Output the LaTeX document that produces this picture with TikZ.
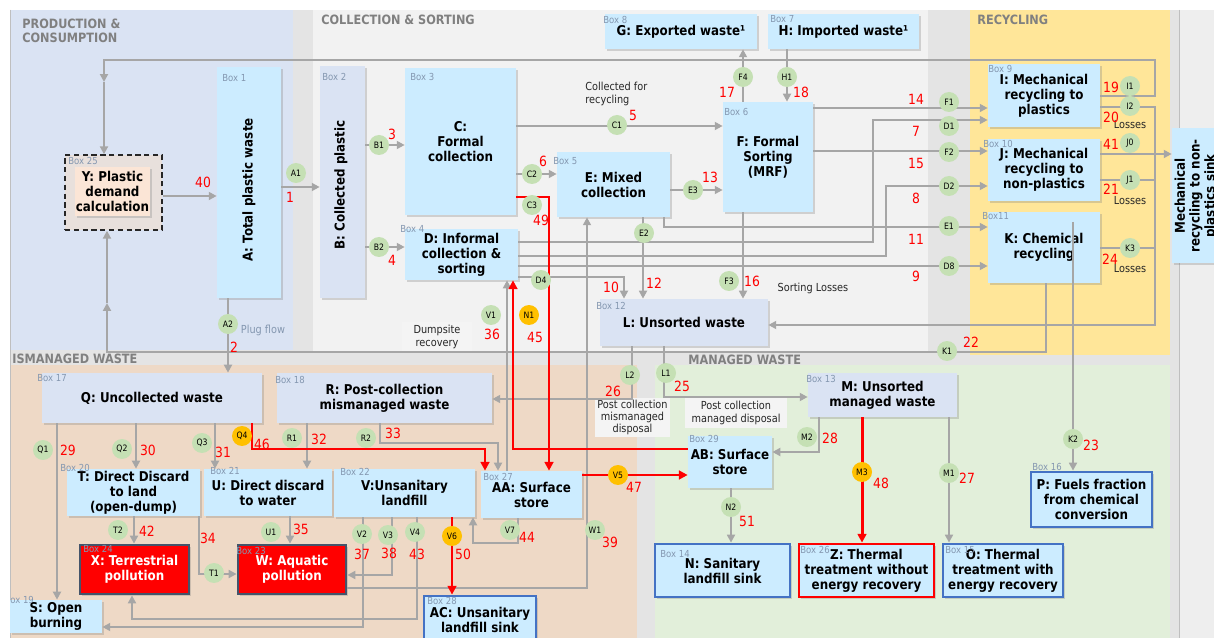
\documentclass[tikz,border=0pt]{standalone}
\usepackage{fontspec}
\setmainfont{DejaVu Sans}[FakeStretch=0.88]
\usetikzlibrary{arrows.meta,shadows}

\definecolor{pcblue}{HTML}{DAE3F3}
\definecolor{csgrey}{HTML}{F2F2F2}
\definecolor{gapgrey}{HTML}{E4E4E4}
\definecolor{rightgrey}{HTML}{EEEEEE}
\definecolor{recyel}{HTML}{FFE699}
\definecolor{mispeach}{HTML}{EED9C6}
\definecolor{mangreen}{HTML}{E2EFDA}
\definecolor{boxblue}{HTML}{CCECFF}
\definecolor{boxlav}{HTML}{DAE3F3}
\definecolor{ypeach}{HTML}{FBE5D6}
\definecolor{ybg}{HTML}{E8E0DC}
\definecolor{flowgrey}{HTML}{A6A6A6}
\definecolor{numred}{HTML}{FF0000}
\definecolor{nodegreen}{HTML}{C5E0B4}
\definecolor{nodeorange}{HTML}{FFC000}
\definecolor{labgrey}{HTML}{8497B0}
\definecolor{zonegrey}{HTML}{808080}
\definecolor{sinkblue}{HTML}{4472C4}
\definecolor{polborder}{HTML}{44546A}
\definecolor{notebg}{HTML}{F4F4F4}

\newcommand{\boxfont}{\bfseries\fontsize{7.7}{8.5}\selectfont}
\newcommand{\numfont}{\fontsize{8}{8}\selectfont}
\newcommand{\tagfont}{\fontsize{5.5}{5.5}\selectfont}
\newcommand{\cfont}{\fontsize{5}{5}\selectfont}
\newcommand{\notefont}{\fontsize{6.3}{7}\selectfont}
\newcommand{\zonefont}{\bfseries\fontsize{7.3}{8}\selectfont}

\begin{document}
\begin{tikzpicture}[x=0.02cm,y=-0.02cm,
  pbox/.style={fill=boxblue, inner sep=0pt, align=center, font=\boxfont,
    drop shadow={shadow xshift=1.2pt,shadow yshift=-1.2pt,opacity=0.3,fill=black!50}},
  lbox/.style={pbox, fill=boxlav},
  sinkbox/.style={pbox, draw=sinkblue, line width=1.6pt},
  zbox/.style={pbox, draw=numred, line width=1.6pt},
  polbox/.style={pbox, fill=numred, draw=polborder, line width=1.6pt, text=white},
  ybox/.style={draw=black!85, dash pattern=on 3pt off 2pt, line width=0.8pt, fill=ybg, inner sep=0pt},
  notebox/.style={fill=notebg, inner sep=0pt, align=center, font=\notefont, text=black!85},
  flow/.style={draw=flowgrey, line width=1.1pt, -{Triangle[length=4.5pt,width=4.5pt]}},
  link/.style={draw=flowgrey, line width=1.1pt},
  rflow/.style={draw=numred, line width=1.7pt, -{Triangle[length=5pt,width=5pt]}},
  gc/.style={circle, fill=nodegreen, minimum size=0.4cm, inner sep=0pt, font=\cfont},
  oc/.style={gc, fill=nodeorange},
  num/.style={text=numred, font=\numfont, inner sep=0pt},
  tag/.style={text=labgrey, font=\tagfont, anchor=west, inner sep=0pt},
  note/.style={font=\notefont, text=black!85, align=center, inner sep=0pt},
  zone/.style={text=zonegrey, font=\zonefont, anchor=west, align=left, inner sep=0pt}]

\useasboundingbox (0,0) rectangle (1214,638);
\clip (0,0) rectangle (1214,638);

% regions
\fill[white] (0,0) rectangle (1214,638);
\fill[gapgrey] (10,10) rectangle (1214,638);
\fill[pcblue] (10,10) rectangle (293,350);
\fill[csgrey] (313,10) rectangle (928,352);
\fill[recyel] (970,10) rectangle (1170,355);
\fill[mispeach] (10,365) rectangle (637,638);
\fill[mangreen] (655,365) rectangle (1170,638);
\fill[rightgrey] (1179,10) rectangle (1214,638);
\draw[black!25] (1179,10) -- (1179,638);
\draw[black!25] (10,10) -- (10,638);

\node[zone] (zpc) at (22,31) {PRODUCTION \&\\CONSUMPTION};
\node[zone] (zcs) at (321,20) {COLLECTION \& SORTING};
\node[zone] (zrc) at (977,20) {RECYCLING};
\node[zone] (zmm) at (12,359) {ISMANAGED WASTE};
\node[zone] (zmw) at (688,360) {MANAGED WASTE};

% boxes
\node[ybox, minimum width=1.94cm, minimum height=1.5cm] (Yout) at (113.5,192.5) {};
\node[pbox, fill=ypeach, minimum width=1.5cm, minimum height=0.98cm] (Y) at (112.5,191.5) {Y: Plastic\\demand\\calculation};
\node[pbox, minimum width=1.28cm, minimum height=4.62cm] (A) at (249,182.5) {};
\node[rotate=90, font=\boxfont] (At) at (249,190) {A: Total plastic waste};
\node[lbox, minimum width=0.9cm, minimum height=4.64cm] (B) at (342.5,182) {};
\node[rotate=90, font=\boxfont] (Bt) at (341,185) {B: Collected plastic};
\node[pbox, minimum width=2.22cm, minimum height=2.94cm] (C) at (460.5,141.5) {C:\\Formal\\collection};
\node[pbox, minimum width=2.26cm, minimum height=1.02cm] (D) at (461.5,254.5) {D: Informal\\collection \&\\sorting};
\node[pbox, minimum width=2.26cm, minimum height=1.3cm] (E) at (613.5,184.5) {E: Mixed\\collection};
\node[pbox, minimum width=1.8cm, minimum height=2.2cm] (F) at (768,157) {F: Formal\\Sorting\\(MRF)};
\node[pbox, minimum width=3.04cm, minimum height=0.7cm] (G) at (681,31.5) {G: Exported waste¹};
\node[pbox, minimum width=3.02cm, minimum height=0.7cm] (H) at (843.5,31.5) {H: Imported waste¹};
\node[pbox, minimum width=2.24cm, minimum height=1.26cm] (I) at (1044,95.5) {I: Mechanical\\recycling to\\plastics};
\node[pbox, minimum width=2.24cm, minimum height=1.24cm] (J) at (1044,170) {J: Mechanical\\recycling to\\non-plastics};
\node[pbox, minimum width=2.24cm, minimum height=1.42cm] (K) at (1044,247.5) {K: Chemical\\recycling};
\node[pbox, minimum width=1cm, minimum height=2.7cm] (sink) at (1197,195.5) {};
\node[rotate=90, font=\boxfont, align=center] (sinkt) at (1196,196) {Mechanical\\recycling to non-\\plastics sink};
\node[lbox, minimum width=3.36cm, minimum height=0.94cm] (L) at (684,322.5) {L: Unsorted waste};
\node[lbox, minimum width=2.98cm, minimum height=0.88cm] (M) at (882.5,395) {M: Unsorted\\managed waste};
\node[lbox, minimum width=4.4cm, minimum height=1cm] (Q) at (152,398) {Q: Uncollected waste};
\node[lbox, minimum width=4.3cm, minimum height=1cm] (R) at (384.5,398) {R: Post-collection\\mismanaged waste};
\node[pbox, minimum width=2.66cm, minimum height=0.94cm] (T) at (133.5,492.5) {T: Direct Discard\\to land\\(open-dump)};
\node[pbox, minimum width=2.56cm, minimum height=0.94cm] (U) at (268,492.5) {U: Direct discard\\to water};
\node[pbox, minimum width=2.82cm, minimum height=0.96cm] (V) at (404.5,493) {V:Unsanitary\\landfill};
\node[pbox, minimum width=2.02cm, minimum height=0.94cm] (AA) at (531.5,494.5) {AA: Surface\\store};
\node[pbox, minimum width=1.68cm, minimum height=1.04cm] (AB) at (730,462) {AB: Surface\\store};
\node[polbox, minimum width=2.18cm, minimum height=0.98cm] (X) at (134.5,569.5) {X: Terrestrial\\pollution};
\node[polbox, minimum width=2.16cm, minimum height=0.98cm] (W) at (292,569.5) {W: Aquatic\\pollution};
\node[pbox, minimum width=1.84cm, minimum height=0.66cm] (S) at (56,616.5) {S: Open\\burning};
\node[sinkbox, minimum width=2.24cm, minimum height=0.96cm] (AC) at (480,620) {AC: Unsanitary\\landfill sink};
\node[sinkbox, minimum width=2.7cm, minimum height=1.06cm] (N) at (722.5,570.5) {N: Sanitary\\landfill sink};
\node[zbox, minimum width=2.7cm, minimum height=1.06cm] (Z) at (866.5,570.5) {Z: Thermal\\treatment without\\energy recovery};
\node[sinkbox, minimum width=2.4cm, minimum height=1.06cm] (O) at (1003,570.5) {O: Thermal\\treatment with\\energy recovery};
\node[sinkbox, minimum width=2.42cm, minimum height=1.1cm] (P) at (1091.5,499.5) {P: Fuels fraction\\from chemical\\conversion};

% box numbers
\node[tag] (tb25) at (68,161) {Box 25};
\node[tag] (tb1) at (222,78) {Box 1};
\node[tag] (tb2) at (322,77) {Box 2};
\node[tag] (tb3) at (410,77) {Box 3};
\node[tag] (tb4) at (400,229) {Box 4};
\node[tag] (tb5) at (553,161) {Box 5};
\node[tag] (tb6) at (724,112) {Box 6};
\node[tag] (tb8) at (603,20) {Box 8};
\node[tag] (tb7) at (770,19) {Box 7};
\node[tag] (tb9) at (988,69) {Box 9};
\node[tag] (tb10) at (983,144) {Box 10};
\node[tag] (tb11) at (982,216) {Box11};
\node[tag] (tb12) at (596,306) {Box 12};
\node[tag] (tb13) at (806,379) {Box 13};
\node[tag] (tb17) at (37,378) {Box 17};
\node[tag] (tb18) at (275,380) {Box 18};
\node[tag] (tb20) at (60,468) {Box 20};
\node[tag] (tb21) at (210,471) {Box 21};
\node[tag] (tb22) at (340,472) {Box 22};
\node[tag] (tb27) at (483,477) {Box 27};
\node[tag] (tb29) at (689,439) {Box 29};
\node[tag] (tb24) at (83,549) {Box 24};
\node[tag] (tb23) at (236,551) {Box 23};
\node[tag] (tb19) at (10,600) {ox 19};
\node[tag] (tb28) at (427,601) {Box 28};
\node[tag] (tb14) at (660,554) {Box 14};
\node[tag] (tb26) at (800,550) {Box 26};
\node[tag] (tb15) at (945,550) {Box 15};
\node[tag] (tb16) at (1032,467) {Box 16};

% notes
\node[notebox, minimum width=1.4cm, minimum height=0.6cm] (dump) at (437,337) {Dumpsite\\recovery};
\node[notebox, minimum width=1.5cm, minimum height=0.78cm] (pcmis) at (632.5,417.5) {Post collection\\mismanaged\\disposal};
\node[notebox, minimum width=2.04cm, minimum height=0.6cm] (pcman) at (736,413) {Post collection\\managed disposal};
\node[note, anchor=west, align=left] (colrec) at (585,94) {Collected for\\recycling};
\node[note] (sortl) at (813,288) {Sorting Losses};
\node[note, text=labgrey] (plug) at (263,330) {Plug flow};
\node[note] (los1) at (1130,125) {Losses};
\node[note] (los2) at (1130,201) {Losses};
\node[note] (los3) at (1130,269) {Losses};

% production and consumption
\draw[flow] (Yout.east |- 0,196) -- (A.west |- 0,196);
\draw[flow] (A.east |- 0,187) -- (B.west |- 0,187);
\draw[flow] (A.south -| 228,0) -- (Q.north -| 228,0);
\draw[flow] (I.east |- 0,96) -| (1155,60) -| (104,82);
\draw[flow] (104,82) -- (Yout.north -| 104,0);
\draw[flow] (K.south -| 1046,0) |- (107,352) -- (107,303);
\draw[flow] (107,303) -- (Yout.south -| 107,0);

% collection and sorting
\draw[flow] (B.east |- 0,145) -- (C.west |- 0,145);
\draw[flow] (B.east |- 0,247) -- (D.west |- 0,247);
\draw[flow] (C.east |- 0,126) -- (F.west |- 0,126);
\draw[flow] (C.east |- 0,174) -- (E.west |- 0,174);
\draw[flow] (E.east |- 0,190) -- (F.west |- 0,190);
\draw[flow] (F.north -| 743,0) -- (G.south -| 743,0);
\draw[flow] (H.south -| 787,0) -- (F.north -| 787,0);
\draw[flow] (F.east |- 0,108) -- (I.west |- 0,108);
\draw[flow] (F.east |- 0,151) -- (J.west |- 0,151);
\draw[flow] (D.east |- 0,242) -| (873,120) -- (I.west |- 0,120);
\draw[flow] (D.east |- 0,256) -| (886,186) -- (J.west |- 0,186);
\draw[flow] (D.east |- 0,266) -- (K.west |- 0,266);
\draw[flow] (E.south -| 664,0) |- (K.west |- 0,227);
\draw[flow] (D.east |- 0,277) -| (L.north -| 624,0);
\draw[flow] (E.south -| 643,0) -- (L.north -| 643,0);
\draw[flow] (F.south -| 743,0) -- (L.north -| 743,0);

% recycling
\draw[flow] (J.east |- 0,154) -- (sink.west |- 0,154);
\draw[flow] (I.east |- 0,107) -- (1155,107) |- (L.east |- 0,325);
\draw[link] (J.east |- 0,180) -- (1155,180);
\draw[link] (K.east |- 0,248) -- (1155,248);
\coordinate (kin) at (1073,222);
\draw[flow] (kin) -- (P.north -| 1073,0);

% managed waste
\draw[flow] (L.south -| 664,0) |- (M.west |- 0,397);
\draw[flow] (L.south -| 632,0) |- (R.east |- 0,399);
\draw[flow] (M.south -| 819,0) |- (AB.east |- 0,452);
\draw[flow] (M.south -| 949,0) -- (O.north -| 949,0);
\draw[flow] (AB.south -| 731,0) -- (N.north -| 731,0);

% mismanaged waste
\draw[flow] (R.south -| 380,0) |- (498,443) -- (AA.north -| 498,0);
\draw[flow] (AA.north -| 507,0) -- (D.south -| 507,0);
\draw[flow] (W.east |- 0,588) -| (E.south -| 587,0);
\draw[flow] (AA.south -| 518,0) |- (473,543) -- (V.south -| 473,0);
\draw[flow] (V.south -| 363,0) |- (S.east |- 0,627);
\draw[flow] (V.south -| 392,0) |- (W.east |- 0,575);
\draw[flow] (V.south -| 417,0) |- (132,619) -- (X.south -| 132,0);
\draw[flow] (R.south -| 307,0) -- (U.north -| 307,0);
\draw[flow] (Q.south -| 57,0) -- (S.north -| 57,0);
\draw[flow] (Q.south -| 136,0) -- (T.north -| 136,0);
\draw[flow] (Q.south -| 215,0) -- (U.north -| 215,0);
\draw[flow] (T.south -| 134,0) -- (X.north -| 134,0);
\draw[flow] (T.south -| 199,0) |- (W.west |- 0,574);
\draw[flow] (U.south -| 290,0) -- (W.north -| 290,0);

% red flows
\draw[rflow] (C.east |- 0,197) -| (AA.north -| 549,0);
\draw[rflow] (AB.west |- 0,449) -| (D.south -| 513,0);
\draw[rflow] (Q.south -| 252,0) |- (485,449) -- (AA.north -| 485,0);
\draw[rflow] (AA.east |- 0,475) -- (AB.west |- 0,475);
\draw[rflow] (V.south -| 452,0) -- (AC.north -| 452,0);
\draw[rflow] (M.south -| 862,0) -- (Z.north -| 862,0);

% flow nodes
\node[gc] (A1) at (296,173) {A1};
\node[gc] (A2) at (228,324) {A2};
\node[gc] (B1) at (379,145) {B1};
\node[gc] (B2) at (379,247) {B2};
\node[gc] (C1) at (617,125) {C1};
\node[gc] (C2) at (532,174) {C2};
\node[gc] (C3) at (532,205) {C3};
\node[gc] (E2) at (644,233) {E2};
\node[gc] (E3) at (693,190) {E3};
\node[gc] (F4) at (743,77) {F4};
\node[gc] (H1) at (787,77) {H1};
\node[gc] (F1) at (949,102) {F1};
\node[gc] (D1) at (949,126) {D1};
\node[gc] (F2) at (949,152) {F2};
\node[gc] (D2) at (949,186) {D2};
\node[gc] (E1) at (949,226) {E1};
\node[gc] (D8) at (949,266) {D8};
\node[gc] (I1) at (1130,86) {I1};
\node[gc] (I2) at (1130,106) {I2};
\node[gc] (J0) at (1130,143) {J0};
\node[gc] (J1) at (1130,180) {J1};
\node[gc] (K3) at (1130,248) {K3};
\node[gc] (K1) at (947,351) {K1};
\node[gc] (K2) at (1073,439) {K2};
\node[gc] (F3) at (729,281) {F3};
\node[gc] (D4) at (541,280) {D4};
\node[gc] (V1) at (491,315) {V1};
\node[oc] (N1) at (529,315) {N1};
\node[gc] (L2) at (630,375) {L2};
\node[gc] (L1) at (666,373) {L1};
\node[gc] (M2) at (807,437) {M2};
\node[oc] (M3) at (862,472) {M3};
\node[gc] (M1) at (949,473) {M1};
\node[gc] (N2) at (731,507) {N2};
\node[oc] (V5) at (618,475) {V5};
\node[oc] (V6) at (452,536) {V6};
\node[gc] (V7) at (510,530) {V7};
\node[gc] (W1) at (595,530) {W1};
\node[gc] (V2) at (362,534) {V2};
\node[gc] (V3) at (388,535) {V3};
\node[gc] (V4) at (415,532) {V4};
\node[gc] (U1) at (271,532) {U1};
\node[gc] (T1) at (214,573) {T1};
\node[gc] (T2) at (118,530) {T2};
\node[gc] (Q1) at (43,450) {Q1};
\node[gc] (Q2) at (122,449) {Q2};
\node[gc] (Q3) at (202,443) {Q3};
\node[oc] (Q4) at (242,436) {Q4};
\node[gc] (R1) at (292,438) {R1};
\node[gc] (R2) at (366,438) {R2};

% flow numbers
\node[num] (n40) at (203,182) {40};
\node[num] (n1) at (290,197) {1};
\node[num] (n2) at (234,347) {2};
\node[num] (n3) at (392,134) {3};
\node[num] (n4) at (392,260) {4};
\node[num] (n5) at (633,115) {5};
\node[num] (n6) at (543,161) {6};
\node[num] (n49) at (541,220) {49};
\node[num] (n13) at (710,177) {13};
\node[num] (n17) at (727,92) {17};
\node[num] (n18) at (801,92) {18};
\node[num] (n14) at (916,99) {14};
\node[num] (n7) at (916,131) {7};
\node[num] (n15) at (916,163) {15};
\node[num] (n8) at (916,198) {8};
\node[num] (n11) at (916,239) {11};
\node[num] (n9) at (916,276) {9};
\node[num] (n19) at (1111,87) {19};
\node[num] (n20) at (1111,117) {20};
\node[num] (n41) at (1111,144) {41};
\node[num] (n21) at (1111,189) {21};
\node[num] (n24) at (1110,259) {24};
\node[num] (n22) at (971,342) {22};
\node[num] (n23) at (1091,445) {23};
\node[num] (n16) at (752,281) {16};
\node[num] (n10) at (611,287) {10};
\node[num] (n12) at (654,283) {12};
\node[num] (n36) at (492,334) {36};
\node[num] (n45) at (535,337) {45};
\node[num] (n26) at (613,391) {26};
\node[num] (n25) at (682,386) {25};
\node[num] (n28) at (830,438) {28};
\node[num] (n48) at (881,483) {48};
\node[num] (n27) at (967,478) {27};
\node[num] (n51) at (747,521) {51};
\node[num] (n47) at (634,487) {47};
\node[num] (n50) at (463,554) {50};
\node[num] (n44) at (527,537) {44};
\node[num] (n39) at (610,542) {39};
\node[num] (n43) at (417,554) {43};
\node[num] (n37) at (362,554) {37};
\node[num] (n38) at (389,553) {38};
\node[num] (n35) at (301,529) {35};
\node[num] (n34) at (208,538) {34};
\node[num] (n42) at (147,531) {42};
\node[num] (n29) at (68,450) {29};
\node[num] (n30) at (148,450) {30};
\node[num] (n31) at (223,452) {31};
\node[num] (n46) at (262,444) {46};
\node[num] (n32) at (319,439) {32};
\node[num] (n33) at (393,433) {33};
\end{tikzpicture}
\end{document}
